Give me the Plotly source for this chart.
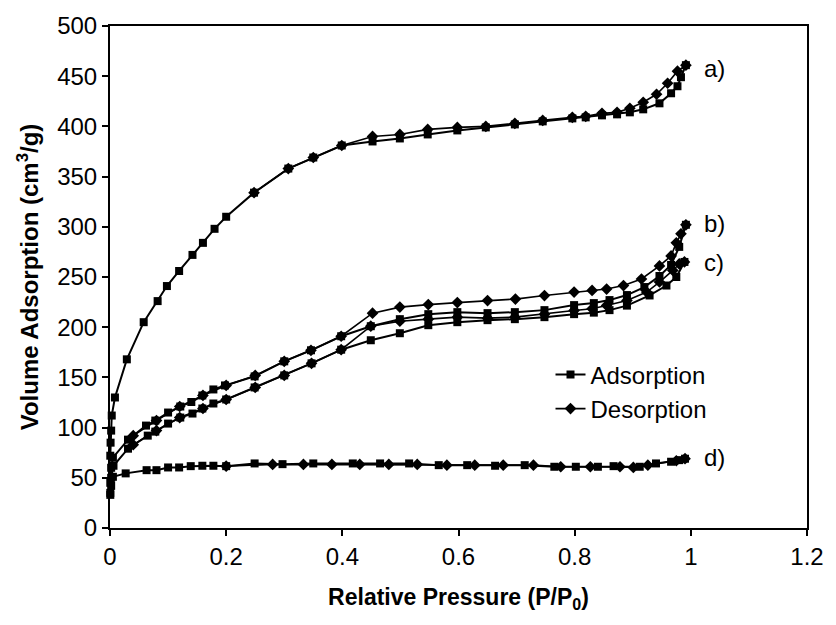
import plotly.graph_objects as go

# Nitrogen sorption isotherms for four samples a) - d)
a_ads_x = [0.0005, 0.001, 0.002, 0.003, 0.0085, 0.029, 0.058, 0.082, 0.098, 0.119, 0.142, 0.160,
           0.180, 0.200, 0.248, 0.307, 0.350, 0.399, 0.452, 0.499, 0.547, 0.598, 0.647, 0.697,
           0.745, 0.796, 0.819, 0.847, 0.873, 0.895, 0.918, 0.946, 0.966, 0.977, 0.983, 0.9915]
a_ads_y = [72, 85, 97, 112, 130, 168, 205, 226, 241, 256, 272, 284,
           298, 310, 334, 358, 369, 381, 385, 388, 392, 396, 399, 402,
           405, 408, 409, 411, 412, 414, 417, 423, 433, 440, 449, 461]
a_des_x = [0.9915, 0.977, 0.960, 0.941, 0.918, 0.895, 0.873, 0.847, 0.819, 0.796, 0.745,
           0.697, 0.647, 0.598, 0.547, 0.499, 0.452, 0.399, 0.350, 0.307, 0.248]
a_des_y = [461, 455, 443, 432, 424, 418, 414, 413, 410, 409, 406,
           403, 400, 399, 397, 392, 390, 381, 369, 358, 334]

b_ads_x = [0.0005, 0.002, 0.005, 0.031, 0.062, 0.078, 0.100, 0.121, 0.140, 0.159, 0.178, 0.198,
           0.249, 0.300, 0.346, 0.398, 0.449, 0.499, 0.548, 0.598, 0.650, 0.697, 0.748, 0.799,
           0.833, 0.860, 0.890, 0.920, 0.946, 0.966, 0.980, 0.9915]
b_ads_y = [45, 60, 70, 88, 102, 107, 115, 121, 125.5, 132, 138, 142,
           151, 166, 177, 191, 201, 208, 213, 215, 214, 215, 217, 222,
           224, 227, 232, 240, 251, 262, 280, 302]
b_des_x = [0.9915, 0.983, 0.975, 0.966, 0.946, 0.915, 0.884, 0.855, 0.830, 0.799, 0.748, 0.698,
           0.650, 0.598, 0.548, 0.499, 0.452, 0.398, 0.346, 0.300, 0.250, 0.200, 0.160, 0.120,
           0.080, 0.040]
b_des_y = [302, 293, 284, 271, 261, 248, 241.5, 238, 236.6, 235, 231.5, 228,
           226.5, 224.5, 222.5, 220, 214, 191, 177, 166, 152, 142, 132, 121,
           107, 92]

c_ads_x = [0.0005, 0.002, 0.006, 0.031, 0.065, 0.078, 0.100, 0.121, 0.142, 0.159, 0.178, 0.200,
           0.249, 0.300, 0.347, 0.398, 0.449, 0.499, 0.548, 0.598, 0.650, 0.697, 0.748, 0.799,
           0.833, 0.860, 0.890, 0.929, 0.958, 0.975, 0.989]
c_ads_y = [35, 50, 62, 79, 92, 96, 104, 110, 114, 119, 124, 128,
           140, 152, 164, 177.6, 187, 194, 202, 205, 207, 208, 210, 213,
           214.5, 217, 221.5, 231.6, 241.5, 250, 265]
c_des_x = [0.989, 0.980, 0.969, 0.946, 0.924, 0.890, 0.855, 0.830, 0.799, 0.748, 0.697, 0.650,
           0.598, 0.548, 0.499, 0.449, 0.398, 0.347, 0.300, 0.250, 0.200, 0.160, 0.120, 0.080,
           0.040]
c_des_y = [265, 263, 256.5, 245, 235, 226.6, 221.7, 218.4, 216.7, 213, 210, 209,
           210, 208, 206, 201, 177.6, 164, 152, 140, 128, 119, 110, 97,
           83]

d_ads_x = [0.0005, 0.002, 0.005, 0.027, 0.063, 0.080, 0.100, 0.119, 0.139, 0.159, 0.178, 0.200,
           0.249, 0.297, 0.350, 0.418, 0.465, 0.515, 0.566, 0.615, 0.663, 0.714, 0.765, 0.802,
           0.840, 0.867, 0.912, 0.940, 0.966, 0.980, 0.990]
d_ads_y = [33, 42, 51, 54.4, 57.6, 57.6, 60.3, 60.3, 61.6, 62, 62, 61.6,
           64.3, 63.6, 64.3, 64.3, 64.3, 64.3, 62.6, 62.6, 62, 62.6, 61, 61,
           61, 61.6, 61, 64.3, 66, 67.6, 69]
d_des_x = [0.990, 0.975, 0.926, 0.901, 0.878, 0.827, 0.776, 0.729, 0.677, 0.628, 0.580, 0.529,
           0.480, 0.430, 0.382, 0.333, 0.280, 0.200]
d_des_y = [69, 67, 62.6, 60.3, 61, 61, 61, 62.6, 62.6, 62.6, 62.6, 63.3,
           63.3, 63.3, 63.3, 63.3, 63.3, 61.6]

sample_labels = ["a)", "b)", "c)", "d)"]
label_y = [458, 303, 264, 70]
label_x = 1.02

FONT = "Liberation Sans, Arial, sans-serif"

fig = go.Figure()

ads_sets = [(a_ads_x, a_ads_y), (b_ads_x, b_ads_y), (c_ads_x, c_ads_y), (d_ads_x, d_ads_y)]
des_sets = [(a_des_x, a_des_y), (b_des_x, b_des_y), (c_des_x, c_des_y), (d_des_x, d_des_y)]

for i, (xs, ys) in enumerate(ads_sets):
    fig.add_trace(go.Scatter(
        x=xs, y=ys, mode="lines+markers", name="Adsorption",
        legendgroup="ads", showlegend=(i == 0), cliponaxis=False,
        line=dict(color="black", width=2),
        marker=dict(symbol="square", size=8, color="black"),
    ))
for i, (xs, ys) in enumerate(des_sets):
    fig.add_trace(go.Scatter(
        x=xs, y=ys, mode="lines+markers", name="Desorption",
        legendgroup="des", showlegend=(i == 0), cliponaxis=False,
        line=dict(color="black", width=1.6),
        marker=dict(symbol="diamond", size=9, color="black"),
    ))

for lab, ly in zip(sample_labels, label_y):
    fig.add_annotation(x=label_x, y=ly, text=lab, showarrow=False,
                       xanchor="left", yanchor="middle",
                       font=dict(family=FONT, size=24, color="black"))

fig.update_layout(
    width=836, height=625,
    margin=dict(l=110, r=20, t=25, b=97),
    paper_bgcolor="white", plot_bgcolor="white",
    font=dict(family=FONT, size=24, color="black"),
    legend=dict(x=0.632, y=0.35, xanchor="left", yanchor="top",
                bgcolor="rgba(0,0,0,0)", tracegroupgap=0,
                font=dict(family=FONT, size=24, color="black")),
)
fig.update_xaxes(
    range=[0, 1.2], dtick=0.2, tick0=0,
    showgrid=False, zeroline=False,
    showline=True, linecolor="black", linewidth=2, mirror=True,
    ticks="outside", ticklen=6, tickwidth=2, tickcolor="black",
    tickfont=dict(family=FONT, size=24),
    title=dict(text="<b>Relative Pressure (P/P<sub>0</sub>)</b>",
               font=dict(family=FONT, size=23), standoff=20),
)
fig.update_yaxes(
    range=[0, 500], dtick=50, tick0=0,
    showgrid=False, zeroline=False,
    showline=True, linecolor="black", linewidth=2, mirror=True,
    ticks="outside", ticklen=6, tickwidth=2, tickcolor="black",
    tickfont=dict(family=FONT, size=24),
    title=dict(text="<b>Volume Adsorption (cm<sup>3</sup>/g)</b>",
               font=dict(family=FONT, size=24), standoff=12),
)

fig.write_html("out.html")
